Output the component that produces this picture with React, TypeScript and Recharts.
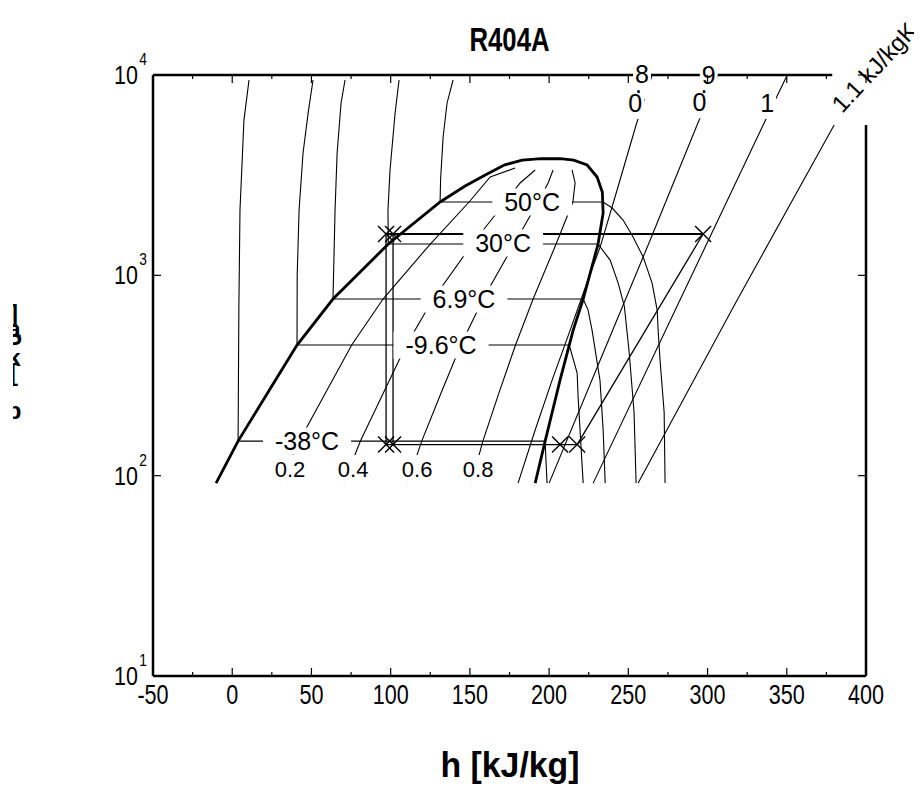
import React from 'react';
import { ComposedChart, Line, Scatter, XAxis, YAxis } from 'recharts';

const FONT = '"Liberation Sans", Arial, Helvetica, sans-serif';
const W = 914;
const H = 782;

// axis ticks
const hTicks = [-50, -25, 0, 25, 50, 75, 100, 125, 150, 175, 200, 225, 250, 275, 300, 325, 350, 375, 400];
const pTicks = [10, 100, 1000, 10000];

// saturation dome (liquid branch, critical region, vapour branch)
const saturationDome = [
  { h: -10.2, p: 91.8 }, { h: 3.7, p: 148.8 }, { h: 22.6, p: 261 }, { h: 40.9, p: 448.7 },
  { h: 63.6, p: 761.6 }, { h: 98.5, p: 1433 }, { h: 131.2, p: 2323 }, { h: 147.0, p: 2792 },
  { h: 160.0, p: 3180 }, { h: 172.0, p: 3560 }, { h: 183.0, p: 3760 }, { h: 195.0, p: 3820 },
  { h: 207.0, p: 3820 }, { h: 215.5, p: 3760 }, { h: 224.0, p: 3554 }, { h: 230.3, p: 3097 },
  { h: 233.6, p: 2600 }, { h: 234.1, p: 2046 }, { h: 230.9, p: 1433 }, { h: 221.5, p: 761.6 },
  { h: 215.2, p: 533 }, { h: 206.9, p: 300 }, { h: 197.5, p: 148.8 }, { h: 191.2, p: 91.8 },
];

// isotherms
const isoM38 = [
  { h: 10.6, p: 9441 }, { h: 7.4, p: 5957 }, { h: 4.9, p: 2118 }, { h: 4.2, p: 700 },
  { h: 3.7, p: 148.8 }, { h: 197.5, p: 148.8 }, { h: 198.0, p: 120 }, { h: 198.7, p: 91.8 },
];
const isoM9_6 = [
  { h: 51.0, p: 9441 }, { h: 47.9, p: 6457 }, { h: 44.7, p: 4080 }, { h: 42.2, p: 2118 },
  { h: 41.0, p: 1000 }, { h: 40.9, p: 448.7 }, { h: 212.7, p: 448.7 }, { h: 217.7, p: 325 },
  { h: 218.3, p: 246.8 }, { h: 221.5, p: 91.8 },
];
const iso6_9 = [
  { h: 71.2, p: 9441 }, { h: 68.7, p: 7250 }, { h: 66.2, p: 4080 }, { h: 64.9, p: 2118 },
  { h: 63.6, p: 761.6 }, { h: 221.5, p: 761.6 }, { h: 224.6, p: 671 }, { h: 227.1, p: 533 },
  { h: 232.1, p: 300 }, { h: 234.1, p: 169 }, { h: 235.4, p: 91.8 },
];
const iso30 = [
  { h: 105.3, p: 9441 }, { h: 102.8, p: 6457 }, { h: 99.6, p: 3356 }, { h: 98.3, p: 2118 },
  { h: 98.5, p: 1433 }, { h: 230.9, p: 1433 }, { h: 238.5, p: 1192 }, { h: 243.6, p: 915 },
  { h: 247.5, p: 700 }, { h: 250.5, p: 414 }, { h: 253.6, p: 208 }, { h: 254.9, p: 91.8 },
];
const iso50 = [
  { h: 139.4, p: 9441 }, { h: 135.6, p: 7250 }, { h: 133.1, p: 4903 }, { h: 131.5, p: 3000 },
  { h: 131.2, p: 2323 }, { h: 234.1, p: 2323 }, { h: 239.8, p: 2168 }, { h: 246.7, p: 1888 },
  { h: 253.0, p: 1553 }, { h: 259.4, p: 1233 }, { h: 265.0, p: 915 }, { h: 268.2, p: 671 },
  { h: 268.8, p: 533 }, { h: 270.1, p: 369 }, { h: 272.6, p: 208 }, { h: 273.2, p: 91.8 },
];

// constant-quality lines
const q02 = [
  { h: 30.1, p: 91.8 }, { h: 42.3, p: 148.8 }, { h: 59.1, p: 261 }, { h: 75.4, p: 448.7 },
  { h: 95.2, p: 761.6 }, { h: 125.0, p: 1433 }, { h: 149.5, p: 2323 }, { h: 162.8, p: 3097 },
  { h: 178.5, p: 3434 },
];
const q04 = [
  { h: 70.4, p: 91.8 }, { h: 80.9, p: 148.8 }, { h: 95.6, p: 261 }, { h: 109.9, p: 448.7 },
  { h: 126.8, p: 761.6 }, { h: 151.5, p: 1433 }, { h: 172.4, p: 2323 }, { h: 181.7, p: 2890 },
  { h: 191.2, p: 3356 },
];
const q06 = [
  { h: 110.6, p: 91.8 }, { h: 119.6, p: 148.8 }, { h: 132.0, p: 261 }, { h: 144.3, p: 448.7 },
  { h: 158.3, p: 761.6 }, { h: 177.9, p: 1433 }, { h: 193.0, p: 2323 }, { h: 199.4, p: 2890 },
  { h: 202.5, p: 3356 },
];
const q08 = [
  { h: 150.9, p: 91.8 }, { h: 158.2, p: 148.8 }, { h: 168.5, p: 261 }, { h: 178.8, p: 448.7 },
  { h: 189.9, p: 761.6 }, { h: 204.4, p: 1433 }, { h: 215.0, p: 2323 }, { h: 216.4, p: 2890 },
  { h: 214.5, p: 3356 },
];

// isentropes
const s08 = [
  { h: 180.4, p: 91.8 }, { h: 191.2, p: 169 }, { h: 201.9, p: 300 }, { h: 213.3, p: 533 },
  { h: 223.4, p: 895 }, { h: 232.2, p: 1384 }, { h: 242.9, p: 2667 }, { h: 254.9, p: 5628 },
  { h: 265.0, p: 10000 },
];
const s09 = [
  { h: 200.0, p: 91.8 }, { h: 232.8, p: 386.6 }, { h: 263.8, p: 1500 }, { h: 293.4, p: 5628 },
  { h: 306.7, p: 10000 },
];
const s10 = [
  { h: 227.8, p: 91.8 }, { h: 281.4, p: 719 }, { h: 335.1, p: 5628 }, { h: 350.3, p: 10000 },
];
const s11 = [
  { h: 256.2, p: 91.8 }, { h: 318.0, p: 736 }, { h: 379.9, p: 5628 }, { h: 397.0, p: 10000 },
];

// refrigeration cycle
const cycleCondenser = [{ h: 97.1, p: 1608 }, { h: 297.2, p: 1608 }];
const cycleThrottleA = [{ h: 97.1, p: 1608 }, { h: 97.1, p: 143 }];
const cycleThrottleB = [{ h: 101.5, p: 1608 }, { h: 101.5, p: 143 }];
const cycleEvaporator = [{ h: 97.1, p: 143 }, { h: 217.7, p: 143 }];
const cycleCompressor = [{ h: 217.7, p: 143 }, { h: 297.2, p: 1608 }];
const cyclePoints = [
  { h: 97.1, p: 1608 }, { h: 101.5, p: 1608 }, { h: 97.1, p: 143 }, { h: 101.5, p: 143 },
  { h: 206.9, p: 143 }, { h: 217.7, p: 143 }, { h: 297.2, p: 1608 },
];

// labels
const isothermLabels = [
  { h: 189.3, p: 2323, text: '50°C' },
  { h: 171.0, p: 1450, text: '30°C' },
  { h: 146.3, p: 761.6, text: '6.9°C' },
  { h: 131.8, p: 448.7, text: '-9.6°C' },
  { h: 47.2, p: 148.8, text: '-38°C' },
];
const qualityLabels = [
  { h: 36.5, p: 107.9, text: '0.2' },
  { h: 76.3, p: 107.9, text: '0.4' },
  { h: 116.7, p: 107.9, text: '0.6' },
  { h: 155.2, p: 107.9, text: '0.8' },
];
const entropyLabels = [
  { h: 256.5, p: 8130, text: '0.8' },
  { h: 297.8, p: 8130, text: '0.9' },
  { h: 337.6, p: 7250, text: '1' },
];
const unitLabels = [{ h: 385.0, p: 6385, text: '1.1 kJ/kgK' }];

// direction of the characters along each isentrope label
const ENTROPY_LABEL_DIR: Record<string, [number, number]> = {
  '0.8': [0.317, -0.95],
  '0.9': [0.45, -0.89],
  '1': [0.45, -0.89],
};

const CHAR_W: Record<string, number> = {
  '0': 0.556, '1': 0.556, '2': 0.556, '3': 0.556, '4': 0.556, '5': 0.556, '6': 0.556,
  '7': 0.556, '8': 0.556, '9': 0.556, '.': 0.278, '-': 0.333, '°': 0.4, C: 0.722, ' ': 0.278,
};
const textWidth = (s: string, fs: number) =>
  Array.from(s).reduce((a, c) => a + (CHAR_W[c] ?? 0.556), 0) * fs;

// condensed text, as used for the axis annotations
const NarrowText = (props: any) => {
  const { x, y, sx, children, ...rest } = props;
  return (
    <text transform={`translate(${x} ${y}) scale(${sx} 1)`} x={0} y={0} fontFamily={FONT} fill="#000" {...rest}>
      {children}
    </text>
  );
};

const BoxLabel = (props: any) => {
  const { cx, cy, payload, fontSize, padX, padY } = props;
  if (cx == null || cy == null) return null;
  const w = textWidth(payload.text, fontSize) + 2 * padX;
  const h = fontSize + 2 * padY;
  return (
    <g>
      <rect x={cx - w / 2} y={cy - h / 2} width={w} height={h} fill="#fff" />
      <text x={cx} y={cy} dy="0.36em" textAnchor="middle" fontSize={fontSize} fontFamily={FONT} fill="#000">
        {payload.text}
      </text>
    </g>
  );
};

// isentrope value: upright characters stepping along the line
const EntropyLabel = (props: any) => {
  const { cx, cy, payload } = props;
  if (cx == null || cy == null) return null;
  const fs = 25;
  const [dx, dy] = ENTROPY_LABEL_DIR[payload.text] ?? [0.4, -0.9];
  const chars = Array.from(payload.text as string);
  const total = textWidth(payload.text, fs);
  let acc = -total / 2;
  const placed = chars.map((c) => {
    const cw = (CHAR_W[c] ?? 0.556) * fs;
    const off = acc + cw / 2;
    acc += cw;
    return { c, cw, x: cx + dx * off, y: cy + dy * off };
  });
  return (
    <g>
      {placed.map((q, i) => (
        <rect key={`b${i}`} x={q.x - q.cw / 2 - 2} y={q.y - 16} width={q.cw + 4} height={32} fill="#fff" />
      ))}
      <text
        x={placed.map((q) => q.x.toFixed(1)).join(' ')}
        y={placed.map((q) => q.y.toFixed(1)).join(' ')}
        dy="0.36em" textAnchor="middle" fontSize={fs} fontFamily={FONT} fill="#000"
      >
        {payload.text}
      </text>
    </g>
  );
};

const UnitLabel = (props: any) => {
  const { cx, cy, payload } = props;
  if (cx == null || cy == null) return null;
  return (
    <g>
      <rect x={cx - 10} y={cy - 100} width={90} height={111} fill="#fff" />
      <text x={cx} y={cy} transform={`rotate(-47 ${cx} ${cy})`} fontSize={24} fontFamily={FONT} fill="#000">
        {payload.text}
      </text>
    </g>
  );
};

const XMark = (props: any) => {
  const { cx, cy } = props;
  if (cx == null || cy == null) return null;
  const r = 8;
  return (
    <g stroke="#000" strokeWidth={1.4}>
      <line x1={cx - r} y1={cy - r} x2={cx + r} y2={cy + r} />
      <line x1={cx - r} y1={cy + r} x2={cx + r} y2={cy - r} />
    </g>
  );
};

const BottomTick = (props: any) => {
  const { x, y, payload } = props;
  const v = payload.value as number;
  const major = v % 50 === 0;
  return (
    <g>
      <line x1={x} x2={x} y1={y} y2={y - (major ? 8 : 4)} stroke="#000" strokeWidth={1.2} />
      {major && (
        <NarrowText x={x} y={y + 28} sx={0.8} textAnchor="middle" fontSize={27}>
          {v}
        </NarrowText>
      )}
    </g>
  );
};

const TopTick = (props: any) => {
  const { x, y, payload } = props;
  const major = (payload.value as number) % 50 === 0;
  return <line x1={x} x2={x} y1={y} y2={y + (major ? 8 : 4)} stroke="#000" strokeWidth={1.2} />;
};

const LeftTick = (props: any) => {
  const { x, y, payload } = props;
  const exp = Math.round(Math.log10(payload.value));
  return (
    <g>
      <line x1={x} x2={x + 8} y1={y} y2={y} stroke="#000" strokeWidth={1.2} />
      <NarrowText x={x - 15} y={y + 9} sx={0.86} textAnchor="end" fontSize={25}>10</NarrowText>
      <NarrowText x={x - 6} y={y - 10} sx={0.86} textAnchor="end" fontSize={16}>{exp}</NarrowText>
    </g>
  );
};

const RightTick = (props: any) => {
  const { x, y } = props;
  return <line x1={x} x2={x - 8} y1={y} y2={y} stroke="#000" strokeWidth={1.2} />;
};

const thin = { stroke: '#000', strokeWidth: 1.1, dot: false, isAnimationActive: false, type: 'linear' as const };

export default function App() {
  // vertical axis title, characters stacked from bottom to top
  const yLabel = 'p [kPa]';
  const yLabelYs = Array.from(yLabel).map((_, i) => (402 - i * 14.7).toFixed(1)).join(' ');
  return (
    <div style={{ position: 'relative', width: W, height: H }}>
      <ComposedChart width={W} height={H} margin={{ top: 37, right: 36, bottom: 84, left: 85 }}>
        <XAxis
          dataKey="h" type="number" domain={[-50, 400]} ticks={hTicks} interval={0}
          height={30} tickLine={false} tickSize={0} tickMargin={0}
          axisLine={{ stroke: '#000', strokeWidth: 2.5 }} tick={<BottomTick />}
        />
        <XAxis
          xAxisId="top" orientation="top" dataKey="h" type="number" domain={[-50, 400]} ticks={hTicks}
          interval={0} allowDataOverflow height={30} tickLine={false} tickSize={0} tickMargin={0}
          axisLine={{ stroke: '#000', strokeWidth: 2.5 }} tick={<TopTick />}
        />
        <YAxis
          dataKey="p" type="number" scale="log" domain={[10, 10000]} ticks={pTicks} interval={0}
          width={60} tickLine={false} tickSize={0} tickMargin={0}
          axisLine={{ stroke: '#000', strokeWidth: 2.5 }} tick={<LeftTick />}
        />
        <YAxis
          yAxisId="right" orientation="right" dataKey="p" type="number" scale="log" domain={[10, 10000]}
          ticks={pTicks} interval={0} allowDataOverflow width={20} tickLine={false} tickSize={0} tickMargin={0}
          axisLine={{ stroke: '#000', strokeWidth: 2.5 }} tick={<RightTick />}
        />

        <Line data={isoM38} dataKey="p" {...thin} />
        <Line data={isoM9_6} dataKey="p" {...thin} />
        <Line data={iso6_9} dataKey="p" {...thin} />
        <Line data={iso30} dataKey="p" {...thin} />
        <Line data={iso50} dataKey="p" {...thin} />

        <Line data={q02} dataKey="p" {...thin} />
        <Line data={q04} dataKey="p" {...thin} />
        <Line data={q06} dataKey="p" {...thin} />
        <Line data={q08} dataKey="p" {...thin} />

        <Line data={s08} dataKey="p" {...thin} />
        <Line data={s09} dataKey="p" {...thin} />
        <Line data={s10} dataKey="p" {...thin} />
        <Line data={s11} dataKey="p" {...thin} />

        <Line data={cycleThrottleA} dataKey="p" {...thin} strokeWidth={1.3} />
        <Line data={cycleThrottleB} dataKey="p" {...thin} strokeWidth={1.3} />
        <Line data={cycleEvaporator} dataKey="p" {...thin} strokeWidth={1.3} />
        <Line data={cycleCompressor} dataKey="p" {...thin} strokeWidth={1.3} />
        <Line data={cycleCondenser} dataKey="p" {...thin} strokeWidth={2} />

        <Line data={saturationDome} dataKey="p" {...thin} strokeWidth={2.8} />

        <Scatter data={cyclePoints} dataKey="p" shape={XMark} isAnimationActive={false} />
        <Scatter
          data={isothermLabels} dataKey="p" isAnimationActive={false}
          shape={(p: any) => <BoxLabel {...p} fontSize={25} padX={12} padY={1} />}
        />
        <Scatter
          data={qualityLabels} dataKey="p" isAnimationActive={false}
          shape={(p: any) => <BoxLabel {...p} fontSize={22} padX={4} padY={3} />}
        />
        <Scatter data={entropyLabels} dataKey="p" isAnimationActive={false} shape={EntropyLabel} />
        <Scatter data={unitLabels} dataKey="p" isAnimationActive={false} shape={UnitLabel} />
      </ComposedChart>

      <svg width={W} height={H} style={{ position: 'absolute', left: 0, top: 0, pointerEvents: 'none' }}>
        <defs>
          <clipPath id="ylabel-clip">
            <rect x={5} y={0} width={40} height={H} />
          </clipPath>
        </defs>
        <NarrowText x={501.5} y={43} sx={0.78} textAnchor="middle" fontSize={33} fontWeight="bold">
          R404A
        </NarrowText>
        <NarrowText x={502} y={769} sx={0.94} textAnchor="middle" fontSize={36} fontWeight="bold">
          h [kJ/kg]
        </NarrowText>
        <g clipPath="url(#ylabel-clip)">
          <text
            x={Array.from(yLabel).map(() => '6').join(' ')} y={yLabelYs} dy="0.36em" textAnchor="middle"
            fontSize={24} fontWeight="bold" fontFamily={FONT} fill="#000"
          >
            {yLabel}
          </text>
        </g>
      </svg>
    </div>
  );
}
